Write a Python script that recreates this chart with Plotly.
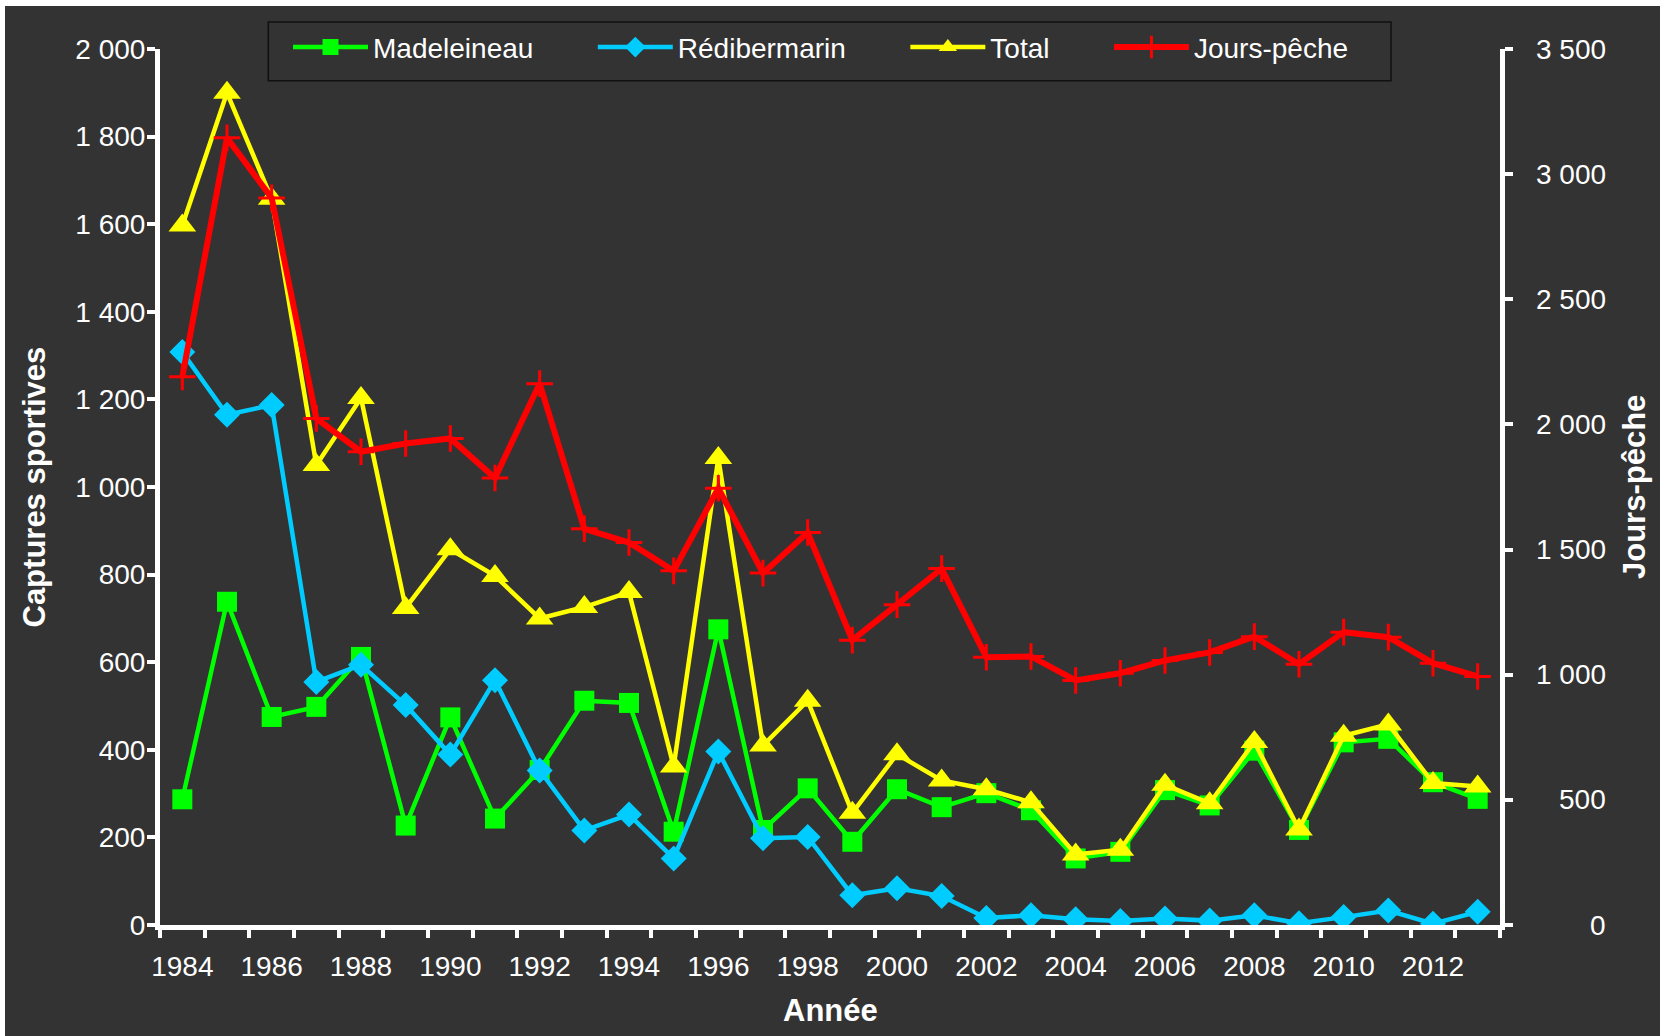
import plotly.graph_objects as go

# Data
years = list(range(1984, 2014))
madeleineau = [287, 738, 475, 498, 612, 227, 474, 243, 354, 512, 507, 213, 675, 217, 312,
               190, 310, 269, 301, 262, 152, 167, 308, 273, 398, 217, 417, 425, 326, 288]
redibermarin = [1308, 1165, 1187, 555, 594, 502, 389, 559, 353, 216, 252, 152, 396, 198, 201,
                68, 84, 66, 16, 22, 13, 9, 15, 10, 22, 4, 18, 33, 3, 30]
total = [1597, 1900, 1658, 1050, 1203, 724, 858, 797, 700, 726, 760, 362, 1066, 410, 512,
         256, 390, 330, 310, 280, 161, 172, 320, 278, 418, 218, 432, 458, 324, 316]
jours_peche = [2190, 3145, 2905, 2024, 1891, 1924, 1944, 1786, 2163, 1583, 1528, 1415, 1745, 1406, 1568,
               1138, 1280, 1424, 1070, 1073, 977, 1006, 1057, 1089, 1152, 1042, 1170, 1150, 1046, 993]

series_names = ['Madeleineau', 'Rédibermarin', 'Total', 'Jours-pêche']

x_tick_vals = list(range(1984, 2013, 2))
x_tick_text = [str(y) for y in x_tick_vals]
left_tick_vals = list(range(0, 2001, 200))
left_tick_text = ['0', '200', '400', '600', '800', '1 000', '1 200', '1 400', '1 600', '1 800', '2 000']
right_tick_vals = list(range(0, 3501, 500))
right_tick_text = ['0', '500', '1 000', '1 500', '2 000', '2 500', '3 000', '3 500']

BG = '#333333'
FONT = 'Liberation Sans, Arial, sans-serif'
PAD = '\u00a0' * 7   # spacing between legend entries

fig = go.Figure()

fig.add_trace(go.Scatter(
    x=years, y=madeleineau, name=series_names[0] + PAD, mode='lines+markers',
    line=dict(color='#00FF00', width=4.5),
    marker=dict(symbol='square', size=20, color='#00FF00')))
fig.add_trace(go.Scatter(
    x=years, y=redibermarin, name=series_names[1] + PAD, mode='lines+markers',
    line=dict(color='#00CCFF', width=4.5),
    marker=dict(symbol='diamond', size=20, color='#00CCFF')))
fig.add_trace(go.Scatter(
    x=years, y=total, name=series_names[2] + PAD, mode='lines+markers',
    line=dict(color='#FFFF00', width=4.5),
    marker=dict(symbol='triangle-up', size=24, color='#FFFF00')))
fig.add_trace(go.Scatter(
    x=years, y=jours_peche, name=series_names[3], mode='lines+markers', yaxis='y2',
    line=dict(color='#FF0000', width=6),
    marker=dict(symbol='cross-thin', size=19, color='#FF0000',
                line=dict(color='#FF0000', width=3))))

# right-axis labels, right aligned like the original
for v, t in zip(right_tick_vals, right_tick_text):
    fig.add_annotation(x=1.0806, xref='paper', y=v, yref='y2', text=t, showarrow=False,
                       xanchor='right', yanchor='middle',
                       font=dict(size=28, color='white', family=FONT))

title_font = dict(size=31, color='white', family=FONT)
fig.add_annotation(x=-0.0944, y=0.5, xref='paper', yref='paper', text='<b>Captures sportives</b>',
                   textangle=-90, showarrow=False, xanchor='center', yanchor='middle', font=title_font)
fig.add_annotation(x=1.1, y=0.5, xref='paper', yref='paper', text='<b>Jours-pêche</b>',
                   textangle=-90, showarrow=False, xanchor='center', yanchor='middle', font=title_font)
fig.add_annotation(x=0.5, y=-0.098, xref='paper', yref='paper', text='<b>Année</b>',
                   showarrow=False, xanchor='center', yanchor='middle', font=title_font)

# legend frame
fig.add_shape(type='rect', xref='paper', yref='paper',
              x0=(268.3 - 160) / 1340, x1=(1391 - 160) / 1340,
              y0=(925.3 - 81) / 876, y1=(925.3 - 22.3) / 876,
              line=dict(color='#111111', width=1.5), fillcolor='rgba(0,0,0,0)')

fig.update_layout(
    width=1655, height=1030,
    margin=dict(l=155, r=160, t=43, b=111),
    paper_bgcolor=BG, plot_bgcolor=BG,
    font=dict(family=FONT, size=28, color='white'),
    xaxis=dict(
        range=[1983.5, 2013.5], tickvals=x_tick_vals, ticktext=x_tick_text,
        ticks='', showgrid=False, zeroline=False,
        showline=True, linecolor='white', linewidth=5,
        tickfont=dict(size=28, color='white'), ticklabelstandoff=12,
        minor=dict(ticks='outside', tick0=1983.5, dtick=1, ticklen=8,
                   tickwidth=4, tickcolor='white', showgrid=False)),
    yaxis=dict(
        range=[0, 2000], tickvals=left_tick_vals, ticktext=left_tick_text,
        ticks='outside', ticklen=8, tickwidth=4, tickcolor='white',
        showgrid=False, zeroline=False,
        showline=True, linecolor='white', linewidth=5,
        tickfont=dict(size=28, color='white'), ticklabelstandoff=-4),
    yaxis2=dict(
        range=[0, 3500], tickvals=right_tick_vals, showticklabels=False,
        overlaying='y', side='right',
        ticks='outside', ticklen=8, tickwidth=4, tickcolor='white',
        showgrid=False, zeroline=False,
        showline=True, linecolor='white', linewidth=5),
    legend=dict(
        orientation='h', x=(288 - 160) / 1340, y=1.0304, xanchor='left', yanchor='top',
        bgcolor='rgba(0,0,0,0)', borderwidth=0,
        font=dict(size=28, color='white', family=FONT),
        itemwidth=75, traceorder='normal'),
    showlegend=True,
)

fig.write_html("out.html",
               post_script="document.body.style.margin='6px 0 0 5px';"
                           "document.body.style.overflow='hidden';")
